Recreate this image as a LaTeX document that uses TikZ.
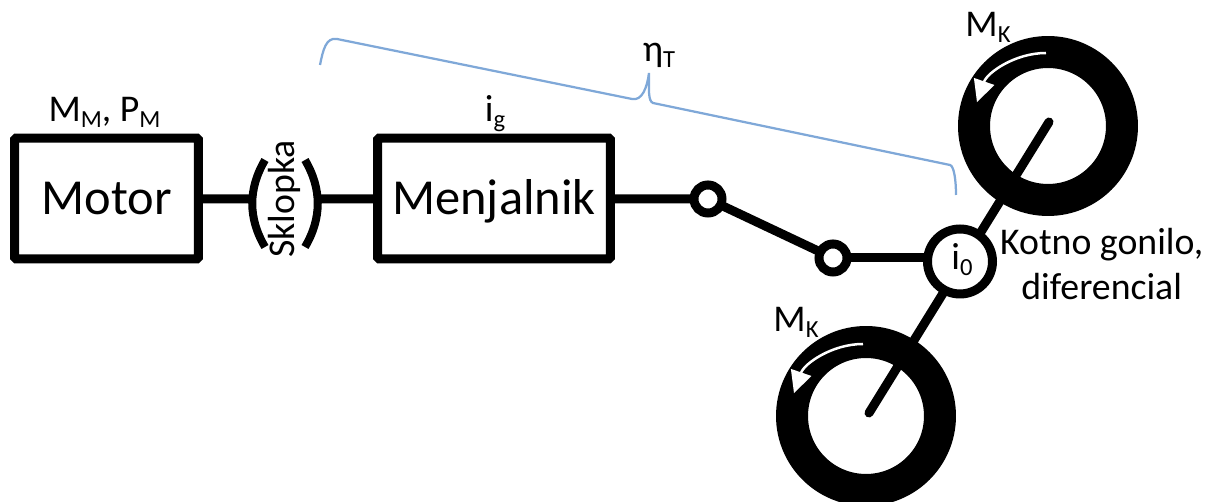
\documentclass[tikz,border=0pt]{standalone}
\usepackage{fontspec}
\setmainfont{Carlito}
\usetikzlibrary{arrows.meta}
\newcommand{\lowidx}[2]{#1\raisebox{-3pt}{\fontsize{14}{14}\selectfont #2}}
\definecolor{bracket}{HTML}{7FA8D8}
\begin{document}
\begin{tikzpicture}
  [x=0.02cm,y=-0.02cm,
   every node/.style={inner sep=0pt,outer sep=0pt,font=\fontsize{21.5}{26}\selectfont},
   shaft/.style={line width=0.18cm,line cap=butt},
   blockbox/.style={draw,line width=0.18cm,rounded corners=1pt,fill=white,text height=18pt,text depth=0pt,
                    minimum height=2.42cm,font=\fontsize{28.7}{32}\selectfont},
   joint/.style={draw,circle,line width=0.18cm,minimum size=0.56cm,fill=white},
   wheel/.style={draw,circle,line width=0.64cm,minimum size=2.96cm,fill=white},
   torque/.style={draw=white,line width=0.05cm,-{Triangle[length=0.44cm,width=0.42cm,fill=white]}}]
  \clip (0,0) rectangle (1215,502);
  % wheels and axle
  \node[wheel] (wheelTop) at (1048,126) {};
  \node[wheel] (wheelBottom) at (866,416) {};
  \coordinate (axleTop) at (1049,122);
  \coordinate (axleBottom) at (869,413);
  \draw[shaft,line cap=round] (axleTop) -- (axleBottom);
  \draw[torque] (1046,53) arc[start angle=-90,end angle=-161,radius=73];
  \draw[torque] (863,344) arc[start angle=-90,end angle=-161,radius=73];
  % drive line
  \node[blockbox,minimum width=3.68cm] (motor) at (106.5,198.5) {Motor};
  \node[blockbox,minimum width=4.66cm] (menjalnik) at (494,198.5) {Menjalnik};
  \node[joint] (switchA) at (708,199) {};
  \node[joint] (switchB) at (833,258) {};
  \node[draw,circle,line width=0.18cm,minimum size=1.3cm,fill=white] (diff) at (960,261.5) {};
  \node[anchor=base] at (962,270) {\lowidx{i}{0}};
  \coordinate (clutchLeft) at (250,199);
  \coordinate (clutchRight) at (319,199);
  \draw[shaft] (motor) -- (clutchLeft);
  \draw[shaft] (clutchRight) -- (menjalnik);
  \draw[shaft] (menjalnik) -- (switchA);
  \draw[shaft] (switchA) -- (switchB);
  \draw[shaft] (switchB) -- (switchB -| diff.west);
  \draw[line width=0.16cm] (265,160) .. controls (248,189) and (248,218) .. (265,247);
  \draw[line width=0.16cm] (305,160) .. controls (322,189) and (322,218) .. (305,247);
  \node[rotate=90] (sklopka) at (284,199) {Sklopka};
  % labels
  \node[anchor=base] (motorLabel) at (104.5,122) {\lowidx{M}{M}, \lowidx{P}{M}};
  \node[anchor=base] (gearLabel) at (495,122) {\lowidx{i}{g}};
  \node[anchor=base] (etaLabel) at (659,62) {\lowidx{η}{T}};
  \node[anchor=base] (torqueTop) at (988,37) {\lowidx{M}{K}};
  \node[anchor=base] (torqueBottom) at (796,332) {\lowidx{M}{K}};
  \node[anchor=base,align=center] (diffLabel) at (1101.7,300) {Kotno gonilo,\\diferencial};
  % bracket
  \draw[bracket,line width=0.045cm]
    (320,65) .. controls (323,50) and (326,37) .. (337,39) -- (632,99)
    .. controls (642,101) and (647,88) .. (649,73)
    .. controls (649,90) and (648,101) .. (653,103) -- (950,165)
    .. controls (954,166) and (956,180) .. (956,195);
\end{tikzpicture}
\end{document}
